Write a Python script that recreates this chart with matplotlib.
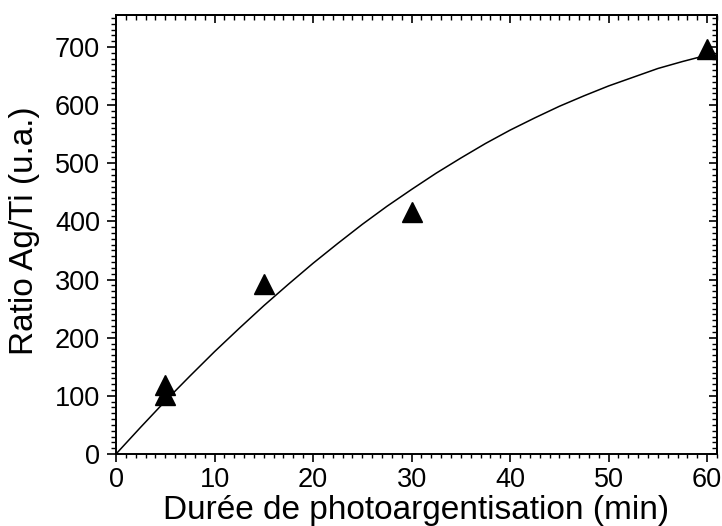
import matplotlib
matplotlib.use("Agg")
import matplotlib.pyplot as plt
from matplotlib.ticker import MultipleLocator

plt.rcParams['font.family'] = ['Liberation Sans', 'DejaVu Sans']

# measured points
duree = [5, 5, 15, 30, 60]
ratio = [102, 118, 292, 417, 697]

# fitted curve
fit_x = [0, 2.5, 5, 7.5, 10, 12.5, 15, 17.5, 20, 22.5, 25, 27.5, 30,
         32.5, 35, 37.5, 40, 42.5, 45, 47.5, 50, 52.5, 55, 57.5, 60]
fit_y = [0, 46, 91, 134, 176, 216, 255, 292, 328, 362, 395, 426, 455,
         483, 509, 534, 557, 578, 598, 616, 633, 648, 663, 675, 686]

xticks = [0, 10, 20, 30, 40, 50, 60]
yticks = [0, 100, 200, 300, 400, 500, 600, 700]

W, H = 722, 526
fig = plt.figure(figsize=(W/100, H/100), dpi=100)
ax = fig.add_axes([116/W, 1 - 454/H, (717-116)/W, (454-15)/H])

ax.plot(fit_x, fit_y, color='black', lw=1.1, zorder=2)
ax.plot(duree, ratio, linestyle='none', marker='^', markersize=15,
        color='black', zorder=3, clip_on=False)

ax.set_xlim(0, 61)
ax.set_ylim(0, 755)
ax.set_xticks(xticks)
ax.set_yticks(yticks)
ax.xaxis.set_minor_locator(MultipleLocator(1))
ax.yaxis.set_minor_locator(MultipleLocator(10))

for s in ax.spines.values():
    s.set_linewidth(1.4)

ax.tick_params(axis='x', which='major', direction='out', length=5.5, width=1.2,
               labelsize=19.5, pad=4)
ax.tick_params(axis='y', which='major', direction='out', length=6.5, width=1.2,
               labelsize=19.5, pad=5)
ax.tick_params(axis='x', which='minor', direction='out', length=3.2, width=1.0)
ax.tick_params(axis='y', which='minor', direction='out', length=3.5, width=1.0)
# mirrored ticks on top and right, pointing inward
axt = ax.secondary_xaxis('top')
axt.set_xticks(xticks)
axt.xaxis.set_minor_locator(MultipleLocator(1))
axt.tick_params(which='major', direction='in', length=6, width=1.2, labeltop=False)
axt.tick_params(which='minor', direction='in', length=3.5, width=1.0)
axt.spines['top'].set_linewidth(1.4)
axr = ax.secondary_yaxis('right')
axr.set_yticks(yticks)
axr.yaxis.set_minor_locator(MultipleLocator(10))
axr.tick_params(which='major', direction='in', length=6, width=1.2, labelright=False)
axr.tick_params(which='minor', direction='in', length=3.5, width=1.0)
axr.spines['right'].set_linewidth(1.4)

fig.text((116+717)/2/W, 1 - 510.5/H, 'Durée de photoargentisation (min)',
         fontsize=24, ha='center', va='center')
fig.text(24.5/W, 1 - 231/H, 'Ratio Ag/Ti (u.a.)', fontsize=24,
         rotation=90, ha='center', va='center')

fig.savefig('out.png', dpi=100)
